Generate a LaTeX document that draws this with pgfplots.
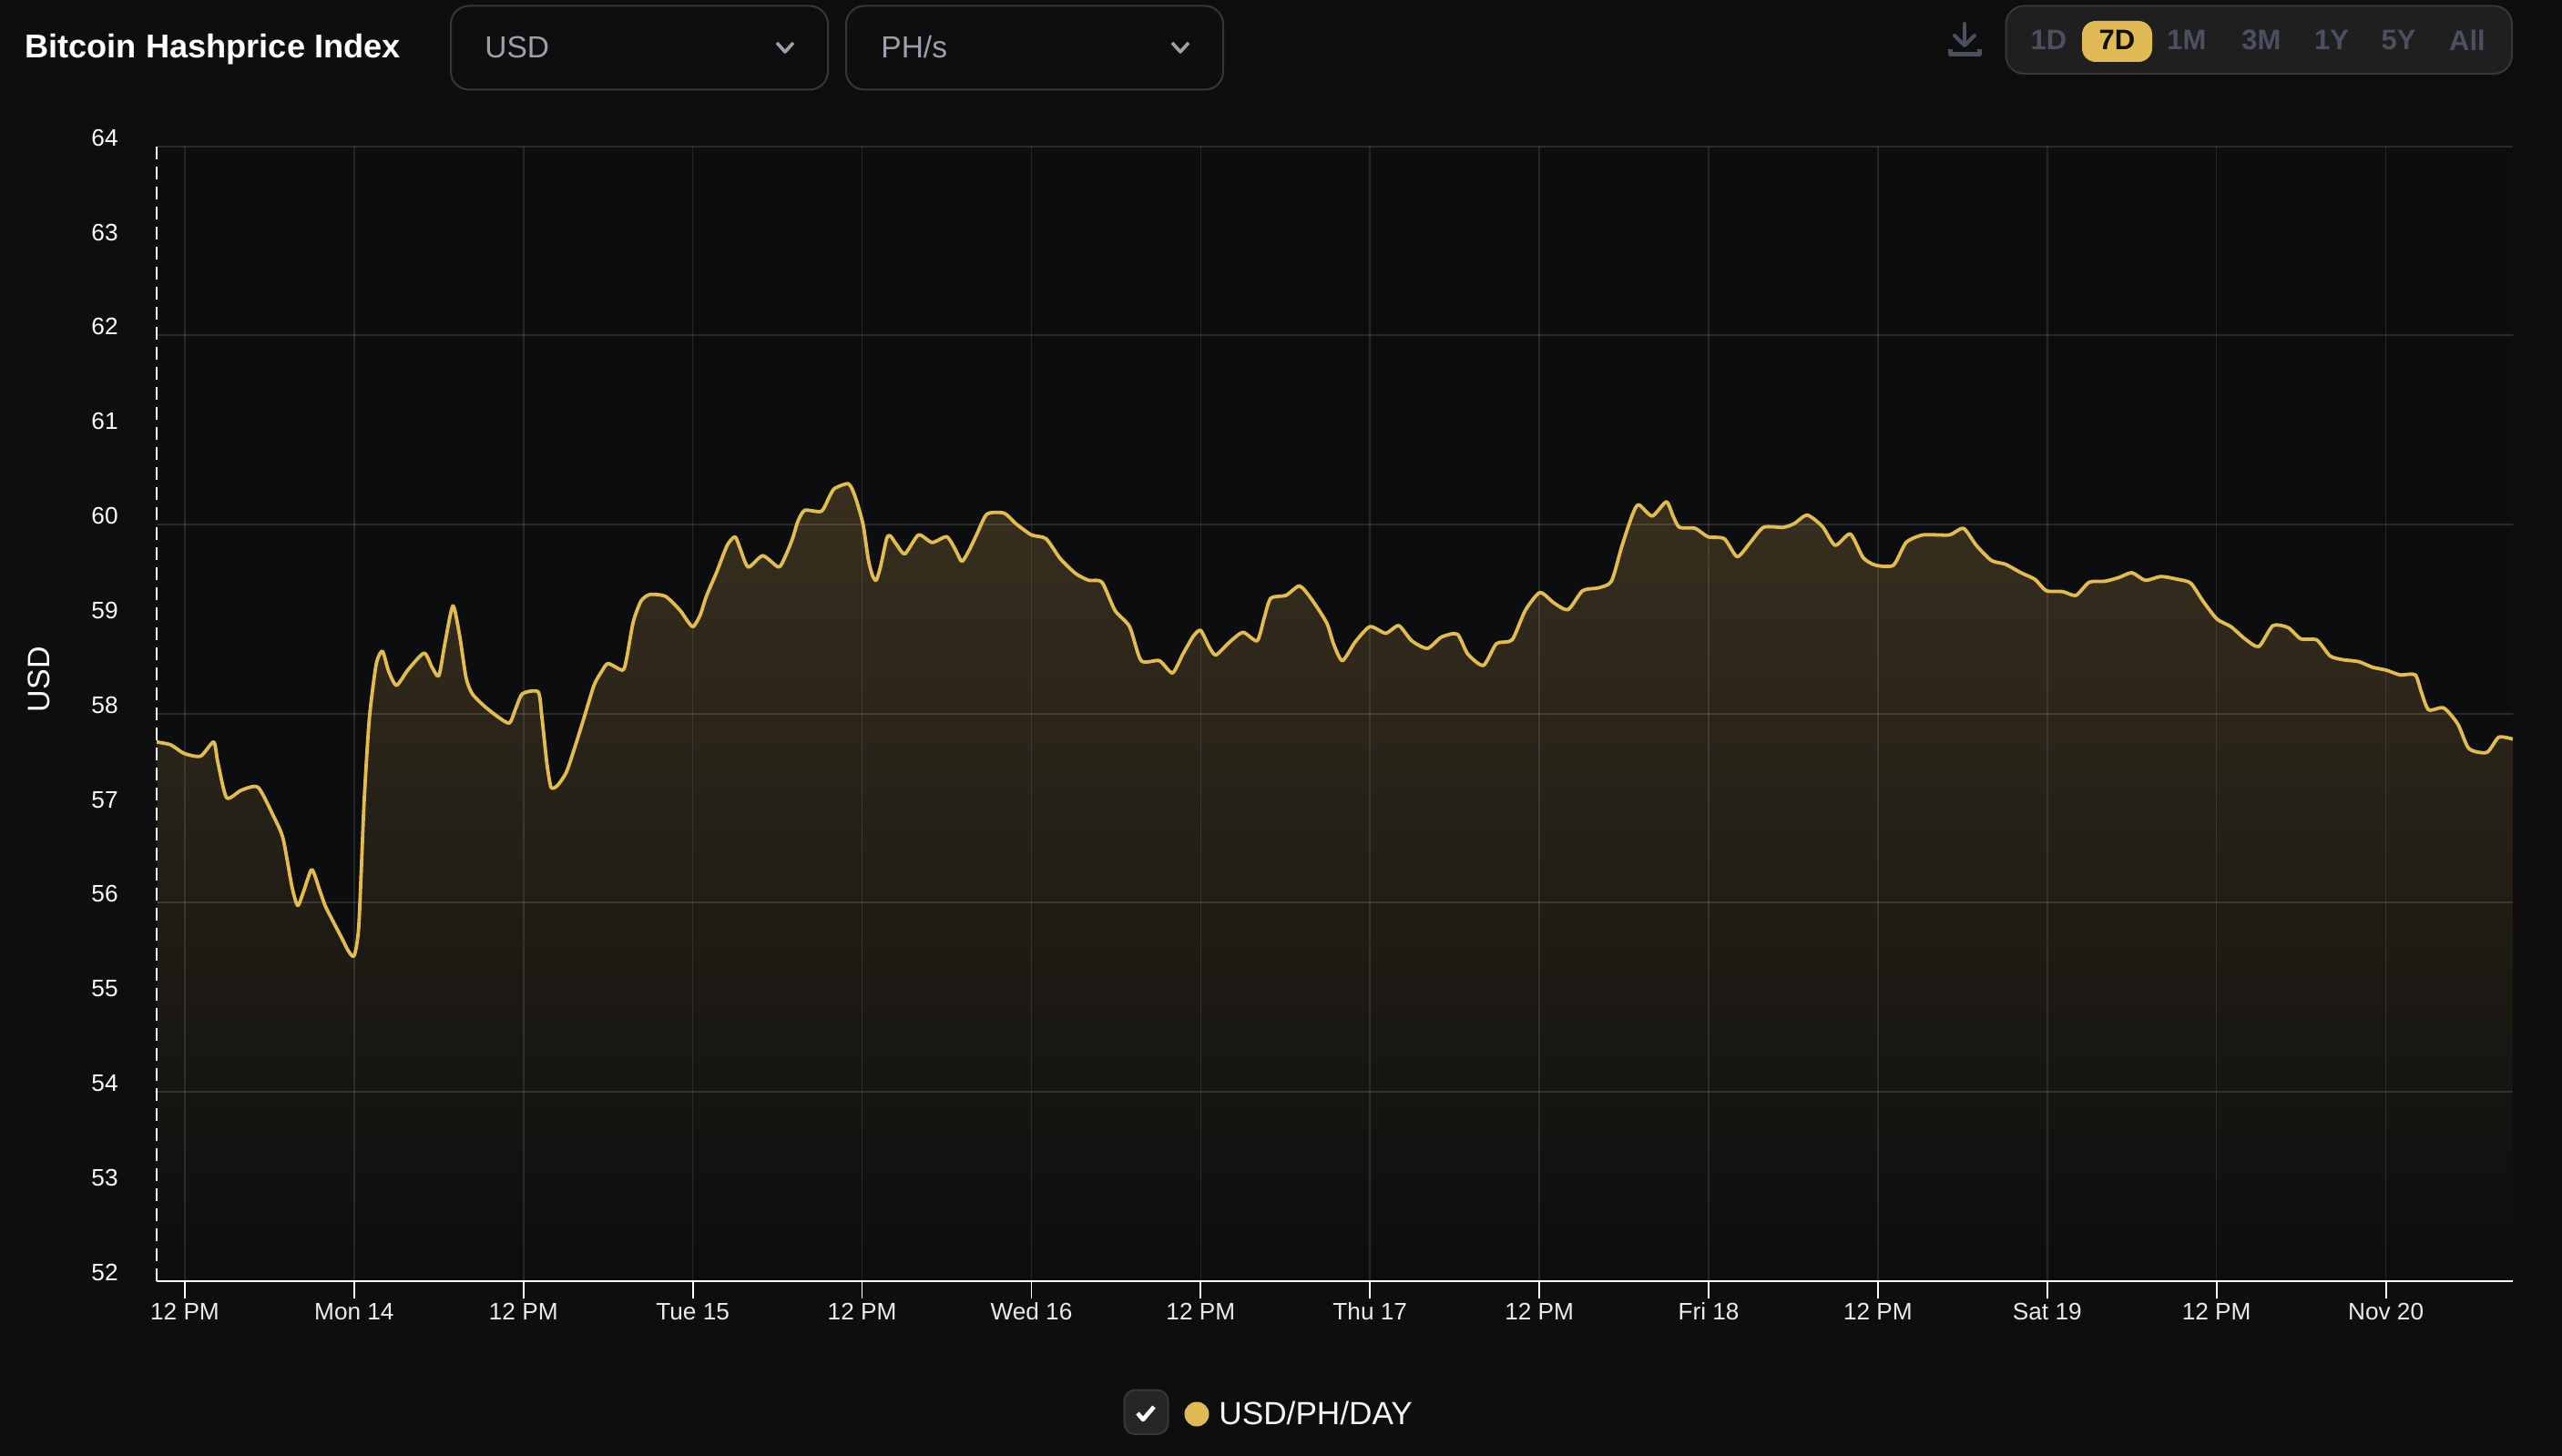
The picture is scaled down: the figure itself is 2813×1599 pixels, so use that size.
\documentclass[border=0pt]{standalone}
\usepackage{fontspec}
\setmainfont{Liberation Sans}
\usepackage{pgfplots}
\usepackage{pgfplotstable}
\pgfplotsset{compat=1.18}
\definecolor{bgc}{HTML}{0E0E0F}
\definecolor{plotc}{HTML}{0C0D0E}
\definecolor{gold}{HTML}{E3BC50}
\definecolor{pillc}{HTML}{E0BA54}
\definecolor{muted}{HTML}{9CA0AB}
\definecolor{slatec}{HTML}{4A5060}
\definecolor{edgec}{HTML}{36373A}
\definecolor{panelc}{HTML}{1F1F20}
\definecolor{fillc}{HTML}{382F1E}
\pgfplotstableread{
hour usd
-14.00 57.70
-13.00 57.67
-12.07 57.58
-10.89 57.55
-9.96 57.70
-9.67 57.49
-9.04 57.11
-8.00 57.19
-6.81 57.22
-5.70 56.91
-5.04 56.68
-4.41 56.17
-4.00 55.97
-3.56 56.13
-3.00 56.35
-2.44 56.13
-2.00 55.95
-0.96 55.65
-0.41 55.49
0.00 55.44
0.33 55.76
0.70 57.05
1.07 57.94
1.56 58.52
2.00 58.66
2.44 58.45
3.00 58.30
3.85 58.47
4.96 58.64
5.52 58.49
6.00 58.40
6.44 58.75
7.00 59.14
7.48 58.82
7.93 58.38
8.37 58.21
9.22 58.08
10.15 57.97
11.00 57.90
11.44 58.05
11.93 58.21
13.04 58.23
13.30 57.97
13.67 57.46
13.96 57.22
14.41 57.24
15.04 57.38
15.63 57.64
16.26 57.94
17.00 58.30
17.56 58.45
18.00 58.53
19.04 58.46
19.33 58.60
19.78 58.97
20.33 59.19
20.96 59.26
22.07 59.24
23.11 59.09
23.67 58.97
24.04 58.92
24.52 59.04
24.96 59.24
25.70 59.50
26.44 59.78
27.00 59.87
27.37 59.74
27.93 59.55
28.96 59.67
30.07 59.55
30.52 59.65
31.07 59.85
31.44 60.03
31.93 60.15
33.11 60.14
33.67 60.29
34.04 60.38
35.04 60.43
35.52 60.29
36.07 60.00
36.44 59.63
36.74 59.46
37.00 59.41
37.30 59.55
37.74 59.85
38.00 59.88
38.48 59.78
39.04 59.69
40.00 59.89
40.96 59.81
42.00 59.87
42.63 59.73
43.07 59.61
43.56 59.72
44.11 59.89
44.85 60.11
46.07 60.12
46.89 60.01
48.00 59.89
49.04 59.85
50.04 59.64
51.15 59.48
52.07 59.41
53.00 59.39
53.93 59.09
54.96 58.92
55.78 58.56
57.07 58.56
58.00 58.43
58.74 58.63
59.48 58.82
60.00 58.88
60.59 58.71
61.07 58.62
62.07 58.76
63.00 58.86
64.00 58.77
64.48 59.00
64.96 59.22
66.04 59.25
67.00 59.35
67.81 59.22
68.93 58.96
69.41 58.74
70.04 58.56
70.96 58.76
72.00 58.92
73.11 58.85
74.04 58.93
74.96 58.77
76.07 58.69
77.07 58.81
78.19 58.84
78.93 58.63
80.04 58.51
80.96 58.74
82.07 58.78
83.00 59.09
84.04 59.28
85.04 59.17
86.04 59.10
87.07 59.30
88.19 59.33
89.11 59.40
89.85 59.77
90.59 60.10
91.04 60.21
92.00 60.09
93.00 60.24
93.48 60.09
93.93 59.97
95.04 59.96
95.96 59.87
97.11 59.85
98.02 59.66
98.90 59.80
99.89 59.97
101.28 59.97
102.07 60.01
102.98 60.10
104.06 59.98
104.97 59.78
106.04 59.90
106.95 59.65
107.83 59.57
109.10 59.57
110.00 59.81
111.20 59.89
113.06 59.89
114.06 59.96
114.97 59.78
116.04 59.62
117.03 59.58
118.14 59.49
119.13 59.42
119.93 59.30
121.12 59.29
122.03 59.25
122.98 59.39
124.10 59.40
125.09 59.44
126.00 59.49
126.95 59.41
128.06 59.45
129.25 59.42
130.17 59.38
131.04 59.19
132.03 59.00
133.02 58.92
134.02 58.79
135.00 58.71
135.99 58.93
137.07 58.91
137.98 58.79
139.10 58.78
140.05 58.61
140.96 58.57
142.07 58.55
143.06 58.49
144.02 58.46
145.00 58.41
146.08 58.41
146.51 58.23
147.03 58.04
148.10 58.06
149.10 57.89
149.89 57.63
151.16 57.59
152.00 57.75
153.00 57.73
}\hashprice
\begin{document}
\begin{tikzpicture}
\begin{scope}[x=0.5pt,y=-0.5pt]
\path[use as bounding box,fill=bgc] (0,0) rectangle (2813,1599);
\fill[plotc] (172,160.7) rectangle (2759,1406.7);
\end{scope}
% the area under the curve
\begin{axis}[
  at={(86pt,-703.35pt)}, anchor=south west,
  scale only axis, width=1293.5pt, height=623pt,
  xmin=-14, xmax=153, ymin=52, ymax=64,
  hide axis,
]
\addplot[draw=none,smooth,tension=0.4,top color=fillc,bottom color=plotc] table[x=hour,y=usd] {\hashprice} \closedcycle;
\end{axis}
% axes, grid and the line
\begin{axis}[
  at={(86pt,-703.35pt)}, anchor=south west,
  scale only axis, width=1293.5pt, height=623pt,
  xmin=-14, xmax=153, ymin=52, ymax=64,
  axis x line*=bottom, axis y line*=left,
  x axis line style={-,white,line width=1pt},
  y axis line style={-,white,line width=1pt,dash pattern=on 7pt off 4pt},
  xtick={-12,0,12,24,36,48,60,72,84,96,108,120,132,144},
  xticklabels={12 PM,Mon 14,12 PM,Tue 15,12 PM,Wed 16,12 PM,Thu 17,12 PM,Fri 18,12 PM,Sat 19,12 PM,Nov 20},
  ytick={52,53,...,64},
  /pgf/number format/assume math mode=true,
  tick align=outside,
  major tick length=9.5pt,
  xtick style={white,line width=0.9pt},
  ytick style={draw=none},
  xmajorgrids=true,
  x grid style={white,opacity=0.10,line width=0.75pt},
  y grid style={white,opacity=0.12,line width=0.9pt},
  extra y ticks={54,56,58,60,62,64},
  extra y tick labels={},
  extra y tick style={ymajorgrids=true,ytick style={draw=none}},
  tick label style={font=\fontsize{13.1}{15}\selectfont,text=white,inner sep=0pt},
  xticklabel style={yshift=-2.5pt,text=white!92!black,text height=9.4pt,text depth=0pt},
  yticklabel style={xshift=-11.5pt,yshift=4.7pt},
  ylabel={USD},
  every axis y label/.style={at={(rel axis cs:0,0.53)},xshift=-64.5pt,rotate=90,anchor=center,font=\fontsize{17}{19}\selectfont,text=white},
]
\addplot[gold,line width=1.9pt,smooth,tension=0.4,line join=round] table[x=hour,y=usd] {\hashprice};
\end{axis}
\begin{scope}[x=0.5pt,y=-0.5pt]
% title and controls
\node[anchor=west,inner sep=0pt,text=white,font=\fontsize{18.1}{20}\selectfont\bfseries] at (27,54) {Bitcoin Hashprice Index};
\draw[edgec,line width=1pt,rounded corners=10pt] (495,6.5) rectangle (909,98.5);
\draw[edgec,line width=1pt,rounded corners=10pt] (929,6.5) rectangle (1343,98.5);
\node[anchor=west,inner sep=0pt,text=muted,font=\fontsize{16.75}{19}\selectfont] at (532,52) {USD};
\node[anchor=west,inner sep=0pt,text=muted,font=\fontsize{16.75}{19}\selectfont] at (967,52) {PH/s};
\draw[muted,line width=1.8pt,line join=round] (853,47) -- (862,57) -- (871,47);
\draw[muted,line width=1.8pt,line join=round] (1287,47) -- (1296,57) -- (1305,47);
% download icon
\draw[slatec,line width=2pt,line cap=round] (2157,26) -- (2157,49);
\draw[slatec,line width=2pt,line cap=round,line join=round] (2146,39) -- (2157,50) -- (2168,39);
\draw[slatec,line width=2.2pt,line join=round] (2141.5,54) -- (2141.5,59.5) -- (2173.5,59.5) -- (2173.5,54);
% range selector
\draw[edgec,fill=panelc,line width=1pt,rounded corners=10pt] (2202.5,6.5) rectangle (2758,81);
\fill[pillc,rounded corners=7.5pt] (2286,23) rectangle (2363,68);
\foreach \xx/\tt in {2249.5/1D,2401/1M,2483/3M,2560/1Y,2633.5/5Y,2709/All}
  \node[inner sep=0pt,text=slatec,font=\fontsize{15.5}{17}\selectfont\bfseries] at (\xx,44) {\tt};
\node[inner sep=0pt,text=bgc,font=\fontsize{15.5}{17}\selectfont\bfseries] at (2324.5,44) {7D};
% legend
\draw[edgec,fill=black!85!white,line width=1pt,rounded corners=6pt] (1234.5,1526.5) rectangle (1282.5,1575);
\draw[white,line width=2.3pt,line join=round] (1249,1552) -- (1255,1559) -- (1267,1545);
\fill[pillc] (1314,1553) circle [radius=13.5];
\node[anchor=west,inner sep=0pt,text=white!90!muted,font=\fontsize{17.6}{21}\selectfont] at (1338,1552) {USD/PH/DAY};
\end{scope}
\end{tikzpicture}
\end{document}
